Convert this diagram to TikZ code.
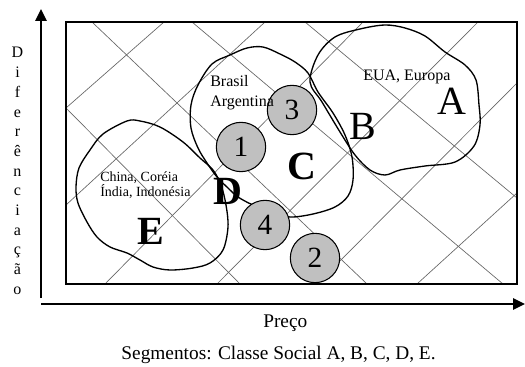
\documentclass[tikz,border=0pt]{standalone}
\usepackage{fontspec}
\setmainfont{Liberation Serif}
\usetikzlibrary{arrows.meta}
\definecolor{discgray}{RGB}{192,192,192}
\begin{document}
\begin{tikzpicture}[x=0.75pt,y=-0.75pt,
  gridline/.style={draw=black!60, line width=0.5pt},
  blob/.style={draw=black, line width=1pt},
  disc/.style={circle, draw=black, line width=0.8pt, fill=discgray, minimum size=37pt, inner sep=0pt, font=\fontsize{22}{22}\selectfont},
  lbl/.style={inner sep=0pt, anchor=base west, font=\fontsize{12}{14}\selectfont},
  smalllbl/.style={inner sep=0pt, anchor=base west, font=\fontsize{10.5}{12}\selectfont},
  bigreg/.style={inner sep=0pt, anchor=base, font=\fontsize{30}{30}\selectfont},
  bigbold/.style={inner sep=0pt, anchor=base, font=\fontsize{30}{30}\selectfont\bfseries},
  captext/.style={inner sep=0pt, font=\fontsize{14.5}{16}\selectfont},
  axisline/.style={line width=1.2pt, -{Triangle[length=9pt,width=8.5pt]}},
  vletter/.style={inner sep=0pt, anchor=base, font=\fontsize{12}{14}\selectfont}
]
\useasboundingbox (0,0) rectangle (525,367);

% diagonal grid
\draw[gridline] (66,108) -- (240,284);
\draw[gridline] (92,22) -- (367,284);
\draw[gridline] (192,22) -- (503,284);
\draw[gridline] (305,22) -- (517,198);
\draw[gridline] (164,22) -- (66,108);
\draw[gridline] (265,22) -- (66,205);
\draw[gridline] (363,22) -- (105,284);
\draw[gridline] (478,22) -- (217,284);
\draw[gridline] (517,83) -- (317,284);
\draw[gridline] (517,193) -- (417,284);

% frame
\draw[line width=1.2pt] (66,22) rectangle (517,284);

% axes
\coordinate (yb) at (41,298);
\coordinate (yt) at (41,9);
\coordinate (xl) at (41,304);
\coordinate (xr) at (525,304);
\draw[axisline] (yb) -- (yt);
\draw[axisline] (xl) -- (xr);

% blob A
\draw[blob] plot[smooth cycle, tension=0.55] coordinates {
 (310,82) (318,55) (335,37) (360,29) (385,25) (405,28) (425,36) (445,52)
 (465,65) (476,80) (479,105) (480,125) (474,146) (455,162) (425,166)
 (400,170) (385,175) (370,170) (355,155) (340,132) (322,102)};
% blob C
\draw[blob] plot[smooth cycle, tension=0.55] coordinates {
 (230,55) (247,48) (263,47) (280,54) (295,62) (308,73) (318,92) (333,113)
 (345,135) (352,157) (353,180) (348,196) (335,207) (313,214) (290,217)
 (272,212) (253,205) (238,197) (228,188) (217,177) (207,163) (198,148)
 (191,128) (191,105) (198,85) (212,64)};
% blob E
\draw[blob] plot[smooth cycle, tension=0.55] coordinates {
 (127,121) (140,121) (160,127) (183,142) (200,158) (213,170) (221,185)
 (226,205) (228,227) (223,250) (210,263) (193,268) (170,270) (153,267)
 (140,260) (127,253) (110,247) (97,237) (87,222) (78,203) (76,187)
 (79,168) (90,150) (103,134)};

% circles
\node[disc] (c1) at (241,147) {1};
\node[disc] (c3) at (292,110) {3};
\node[disc] (c4) at (265,225) {4};
\node[disc] (c2) at (315,258) {2};

% labels
\node[lbl] (bra) at (210,87) {Brasil};
\node[lbl] (arg) at (210,107) {Argentina};
\node[lbl] (eua) at (363,81) {EUA, Europa};
\node[smalllbl] (chi) at (100,182) {China, Coréia};
\node[smalllbl] (ind) at (100,197) {Índia, Indonésia};
\node[bigreg] (la) at (452,115) {A};
\node[bigreg] (lb) at (363,140) {B};
\node[bigbold] (lc) at (302,180) {C};
\node[bigbold] (ld) at (228,205) {D};
\node[bigbold] (le) at (151,245) {E};

% vertical axis label
\foreach \l [count=\i] in {D,i,f,e,r,ê,n,c,i,a,ç,ã,o}
  \node[vletter] (v\i) at (17.5,{58+19.67*(\i-1)}) {\l};

\node[captext, anchor=base west] (preco) at (263,327) {Preço};
\node[captext, anchor=base] (seg) at (278.5,359) {Segmentos: Classe Social A, B, C, D, E.};
\end{tikzpicture}
\end{document}
